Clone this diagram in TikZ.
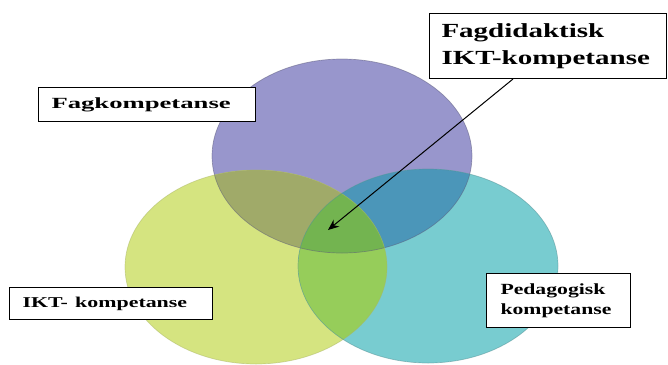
\documentclass[tikz,border=0pt]{standalone}
\usepackage{fontspec}
\setmainfont{Liberation Serif}
\usetikzlibrary{calc,arrows.meta}

\definecolor{fagfarge}{HTML}{9896CC}
\definecolor{iktfarge}{HTML}{D5E480}
\definecolor{pedfarge}{HTML}{78CCD0}
\definecolor{fagikt}{HTML}{A0AA69}
\definecolor{fagped}{HTML}{4B96B9}
\definecolor{iktped}{HTML}{96CD5A}
\definecolor{allefarge}{HTML}{73B450}

\tikzset{
  merkelapp/.style={draw=black,line width=1pt,fill=white,anchor=north west,
    inner xsep=13pt,inner ysep=0pt,align=left},
  kant/.style={line width=0.7pt,draw opacity=0.5},
  pil/.style={line width=1pt,-{Stealth[length=11pt,width=9pt]}}
}
\newcommand{\strekk}[2]{\scalebox{#1}[1]{#2}}
\newcommand{\fagsirkel}{(342,156) ellipse (130pt and 97pt)}
\newcommand{\iktsirkel}{(256,267) ellipse (131pt and 97pt)}
\newcommand{\pedsirkel}{(428,266) ellipse (130pt and 97pt)}

\begin{document}
\begin{tikzpicture}[x=1pt,y=-1pt]
	%\draw[gray!30] (0,0) grid[step=50pt] (668,364);
	\useasboundingbox (0,0) rectangle (668,364);

	\fill[fagfarge] \fagsirkel;
	\fill[iktfarge] \iktsirkel;
	\fill[pedfarge] \pedsirkel;
	\begin{scope}
		\clip \fagsirkel;
		\fill[fagikt] \iktsirkel;
		\fill[fagped] \pedsirkel;
	\end{scope}
	\begin{scope}
		\clip \iktsirkel;
		\fill[iktped] \pedsirkel;
		\clip \pedsirkel;
		\fill[allefarge] \fagsirkel;
	\end{scope}
	\draw[kant,fagfarge!60!black] \fagsirkel;
	\draw[kant,iktfarge!80!black] \iktsirkel;
	\draw[kant,pedfarge!70!black] \pedsirkel;

	\node[merkelapp,minimum height=34pt,text width=191pt,
		font=\bfseries\fontsize{15.5}{18}\selectfont] (fag) at (38,87)
		{\strekk{1.72}{Fagkompetanse}};
	\node[merkelapp,minimum height=32pt,text width=177pt,
		font=\bfseries\fontsize{15}{18}\selectfont] (ikt) at (9,287)
		{\strekk{1.46}{IKT- kompetanse}};
	\node[merkelapp,minimum height=54pt,text width=116pt,inner xsep=14pt,
		font=\bfseries\fontsize{15.5}{20}\selectfont] (ped) at (486,273)
		{\strekk{1.4}{Pedagogisk}\\\strekk{1.4}{kompetanse}};
	\node[merkelapp,minimum height=65pt,text width=213pt,inner xsep=12pt,
		font=\bfseries\fontsize{20}{27}\selectfont] (fagdid) at (429,13)
		{\strekk{1.45}{Fagdidaktisk}\\\strekk{1.45}{IKT-kompetanse}};

	\coordinate (midt) at (328,230);
	\draw[pil] ($(fagdid.south west)!0.353!(fagdid.south east)$) -- (midt);
\end{tikzpicture}
\end{document}
